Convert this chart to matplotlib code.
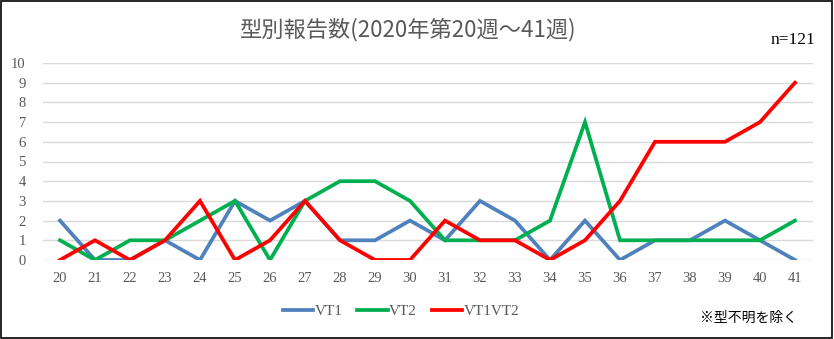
import matplotlib
matplotlib.use("Agg")
import matplotlib.pyplot as plt
from matplotlib.patches import Rectangle

weeks = list(range(20, 42))
vt1 = [2, 0, 0, 1, 0, 3, 2, 3, 1, 1, 2, 1, 3, 2, 0, 2, 0, 1, 1, 2, 1, 0]
vt2 = [1, 0, 1, 1, 2, 3, 0, 3, 4, 4, 3, 1, 1, 1, 2, 7, 1, 1, 1, 1, 1, 2]
vt1vt2 = [0, 1, 0, 1, 3, 0, 1, 3, 1, 0, 0, 2, 1, 1, 0, 1, 3, 6, 6, 6, 7, 9]
series_names = ["VT1", "VT2", "VT1VT2"]
colors = ["#4F81BD", "#00B050", "#FF0000"]

title = "型別報告数(2020年第20週～41週)"
note_n = "n=121"
note_ex = "※型不明を除く"

fams = ["Noto Sans CJK JP", "DejaVu Sans"]
serif = ["Liberation Serif", "DejaVu Serif"]

fig = plt.figure(figsize=(8.34, 3.39), dpi=100)
fig.patch.set_facecolor("white")
fig.add_artist(Rectangle((0.001, 0.002), 0.997, 0.995, transform=fig.transFigure,
                         fill=False, edgecolor="black", linewidth=1.2))

ax = fig.add_axes([42.5 / 834, 79 / 339, 770 / 834, 197 / 339])
for vals, name, c in zip([vt1, vt2, vt1vt2], series_names, colors):
    ax.plot(weeks, vals, color=c, linewidth=2.7, label=name, solid_joinstyle="miter")

ax.set_xlim(19.5, 41.5)
ax.set_ylim(0, 10)
ax.set_yticks(range(0, 11))
ax.set_xticks(weeks)
ax.set_xticklabels([str(w) for w in weeks], family=serif, fontsize=10.5, color="#595959")
ax.set_yticklabels([str(v) for v in range(0, 11)], family=serif, fontsize=10.5, color="#595959")
ax.grid(axis="y", color="#D9D9D9", linewidth=1)
ax.set_axisbelow(True)
for s in ax.spines.values():
    s.set_visible(False)
ax.tick_params(axis="both", length=0)
ax.tick_params(axis="x", pad=9)
ax.tick_params(axis="y", pad=12)

fig.text(408 / 834, 1 - 30 / 339, title, family=fams, fontsize=16, color="#595959",
         ha="center", va="center")
fig.text(815 / 834, 1 - 40 / 339, note_n, family=serif, fontsize=12.5, color="black",
         ha="right", va="center")
fig.text(797 / 834, 1 - 318 / 339, note_ex, family=fams, fontsize=10, color="black",
         ha="right", va="center")

leg = fig.legend(loc="center", bbox_to_anchor=(401 / 834, 1 - 311 / 339), ncol=3,
                 frameon=False, prop={"family": serif, "size": 11},
                 handlelength=2.0, handletextpad=0.1, columnspacing=0.95)
for t in leg.get_texts():
    t.set_color("#595959")

fig.savefig("out.png", dpi=100)
